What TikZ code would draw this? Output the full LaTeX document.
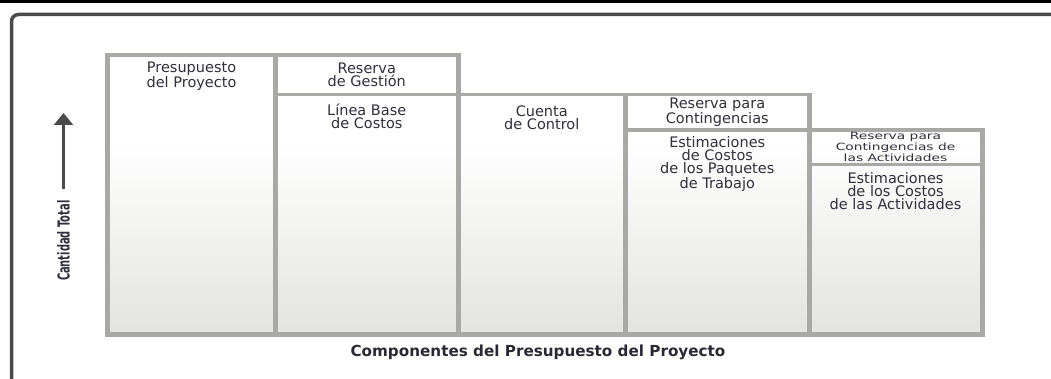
\documentclass[tikz,border=0pt]{standalone}
\usepackage{fontspec}
\setmainfont{DejaVu Sans}
\newfontfamily\anchafont[FakeStretch=1.38]{DejaVu Sans}
\newfontfamily\estrechafont[FakeStretch=0.6]{DejaVu Sans}
\usepackage{xcolor}
\usepackage{tikz}
\usetikzlibrary{arrows.meta,
                positioning}

\definecolor{barra}{HTML}{A8A8A5}
\definecolor{fondo}{HTML}{E3E3E1}
\definecolor{texto}{HTML}{30303C}
\definecolor{marco}{HTML}{4A4A4A}

\begin{document}
\begin{tikzpicture}[x=1pt, y=-1pt,
  celda/.style={anchor=base, align=center, text=texto,
                font=\fontsize{14.5}{13}\selectfont},
  vline/.style={barra, line width=5pt},
  hline/.style={barra, line width=3.5pt, line cap=rect}]
\useasboundingbox (0,0) rectangle (1051,379);

% marco de la figura
\draw[black, line width=3pt] (0,2) -- (1051,2);
\draw[marco, line width=3.5pt, rounded corners=7pt] (11.5,380) -- (11.5,14.5) -- (1052,14.5);

% fondo de las columnas
\begin{scope}
\clip (107.5,55) -- (458,55) -- (458,94.5) -- (809,94.5) -- (809,130)
      -- (982,130) -- (982,334) -- (107.5,334) -- cycle;
\fill[white] (107.5,55) rectangle (982,140);
\shade[top color=white, bottom color=fondo] (107.5,140) rectangle (982,334);
\end{scope}

% bordes
\foreach \x/\t in {107.5/55, 275.5/55, 458/55, 625.5/94.5, 809/94.5, 982/130}
  \draw[vline] (\x,\t-1.75) -- (\x,336.5);
\draw[hline] (107.5,55) -- (458,55);
\draw[hline] (275.5,94.5) -- (809,94.5);
\draw[hline] (625.5,130) -- (982,130);
\draw[hline] (809,164.5) -- (982,164.5);
\draw[barra, line width=5pt, line cap=rect] (107.5,334) -- (982,334);

% textos de las celdas (base = ultima linea)
\foreach \n/\x/\y/\t in {pres/191.5/88/{Presupuesto\\del Proyecto},
                         gest/366.75/87/{Reserva\\de Gestión},
                         base/366.75/129/{Línea Base\\de Costos},
                         cuenta/541.75/129.3/{Cuenta\\de Control},
                         cont/717.25/123.3/{Reserva para\\Contingencias},
                         paq/717.25/188.3/{Estimaciones\\de Costos\\de los Paquetes\\de Trabajo},
                         act/895.5/210/{Estimaciones\\de los Costos\\de las Actividades}}
  \node[celda] (\n) at (\x,\y) {\t};
\node[celda, font=\anchafont\fontsize{10}{11}\selectfont] (resact) at (895.5,161.7)
  {Reserva para\\Contingencias de\\las Actividades};

% ejes
\node[rotate=90, anchor=east, text=texto,
      font=\estrechafont\bfseries\fontsize{16.5}{16}\selectfont] (eje) at (63.5,197) {Cantidad Total};
\coordinate (cima) at (63.5,113);
\draw[marco, line width=2.5pt, shorten <=8pt, -{Triangle[length=12pt,width=19pt]}] (eje.east) -- (cima);

\node[anchor=base, text=texto!85!black, font=\bfseries\fontsize{15.2}{16}\selectfont]
  (titulo) at (538,356) {Componentes del Presupuesto del Proyecto};
\end{tikzpicture}
\end{document}
